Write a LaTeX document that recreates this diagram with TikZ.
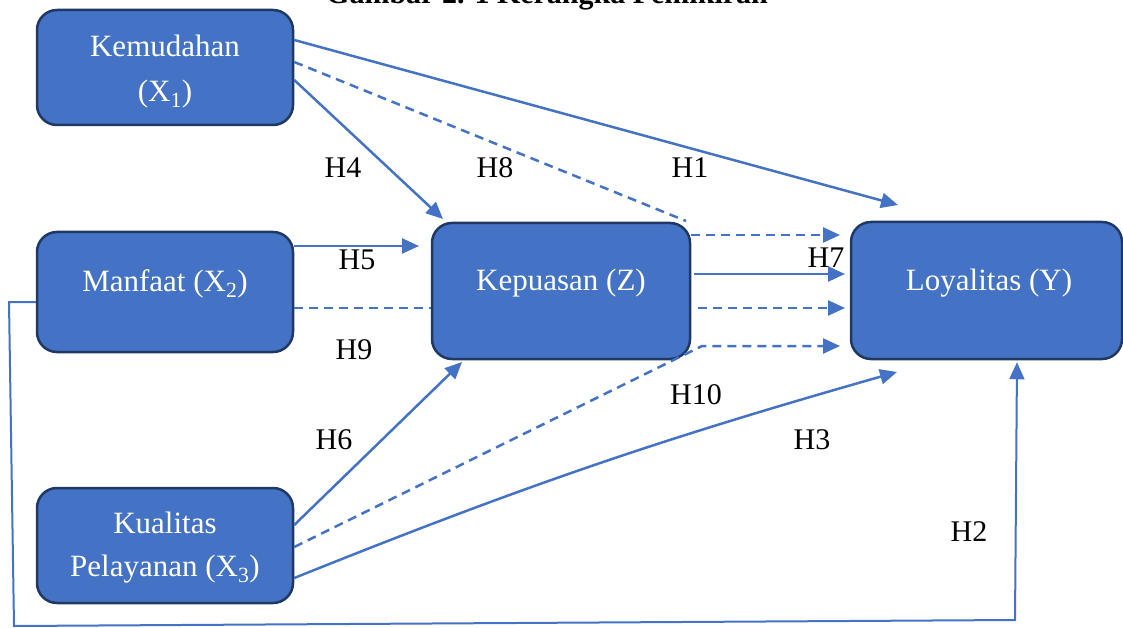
\documentclass[tikz,border=0pt]{standalone}
\usepackage{fontspec}
\setmainfont{Liberation Serif}
\usetikzlibrary{arrows.meta,calc}
\definecolor{boxfill}{HTML}{4472C4}
\definecolor{boxline}{HTML}{203864}
\definecolor{arr}{HTML}{4472C4}
\begin{document}
\begin{tikzpicture}[x=1pt,y=-1pt,
  box/.style={draw=boxline, fill=boxfill, line width=2.5pt, rounded corners=20pt,
    text=white, align=center, inner sep=0pt, font=\fontsize{31}{44}\selectfont},
  conn/.style={draw=arr, line width=2.5pt},
  tip/.style={-{Triangle[length=17pt,width=15pt]}},
  dsh/.style={dash pattern=on 9pt off 6pt},
  lab/.style={font=\fontsize{30}{36}\selectfont, inner sep=0pt}]
\useasboundingbox (0,0) rectangle (1123,628);
\node[font=\bfseries\fontsize{30}{36}\selectfont, anchor=base, inner sep=0pt] (title) at (547,4) {Gambar 2. 1 Kerangka Pemikiran};

\node[box, minimum width=256pt, minimum height=115pt] (k) at (165,67.5) {};
\node[font=\fontsize{31}{45}\selectfont, text=white, align=center, inner sep=0pt] (kt) at (165,72) {Kemudahan\\(X\textsubscript{1})};
\node[box, minimum width=256pt, minimum height=120pt] (m) at (165,292) {};
\node[font=\fontsize{31}{44}\selectfont, text=white, inner sep=0pt] (mt) at (165,284) {Manfaat (X\textsubscript{2})};
\node[box, minimum width=256pt, minimum height=115pt] (q) at (165,545.5) {};
\node[font=\fontsize{31}{43}\selectfont, text=white, align=center, inner sep=0pt] (qt) at (165,548) {Kualitas\\Pelayanan (X\textsubscript{3})};
\node[box, minimum width=258pt, minimum height=136pt] (z) at (561,291) {};
\node[font=\fontsize{31}{44}\selectfont, text=white, inner sep=0pt] (zt) at (561,283) {Kepuasan (Z)};
\node[box, minimum width=271pt, minimum height=137pt] (y) at (986.5,290.5) {};
\node[font=\fontsize{31}{44}\selectfont, text=white, inner sep=0pt] (yt) at (989,283) {Loyalitas (Y)};

\coordinate (e1) at (898,205);
\coordinate (e4) at (443,219);
\coordinate (e5) at (419,246);
\coordinate (e8a) at (686,221);
\coordinate (e8) at (840,235);
\coordinate (e7) at (845,274);
\coordinate (e9) at (845,308);
\coordinate (e10a) at (702,346);
\coordinate (e10) at (840,346);
\coordinate (e6) at (462,362);
\coordinate (e3) at (897,372);
\coordinate (c1) at (9,302);
\coordinate (c2) at (14,626);
\coordinate (c3) at (1015,620);

% H1
\draw[conn, tip] ($(k.east)+(0,-27.5)$) -- (e1);
% H8
\draw[conn, dsh] ($(k.east)+(0,-5.5)$) -- (e8a);
\draw[conn, dsh, tip] ($(z.east)+(0,-56)$) -- (e8);
% H4
\draw[conn, tip] ($(k.east)+(0,12.5)$) -- (e4);
% H5
\draw[conn, tip] ($(m.east)+(0,-46)$) -- (e5);
% H9
\draw[conn, dsh] ($(m.east)+(0,16)$) -- ($(z.west)+(0,17)$);
\draw[conn, dsh, tip] ($(z.east)+(7,17)$) -- (e9);
% H7
\draw[conn, tip] ($(z.east)+(3,-17)$) -- (e7);
% H10
\draw[conn, dsh, tip] ($(q.east)+(0,1.5)$) -- (e10a) -- (e10);
% H6
\draw[conn, tip] ($(q.east)+(0,-20.5)$) -- (e6);
% H3
\draw[conn, tip] ($(q.east)+(0,32.5)$) to[bend left=3] (e3);
% H2
\draw[conn, line width=2pt, tip] ($(m.west)+(0,10)$) -- (c1) -- (c2) -- (c3) -- ($(y.south)+(30.5,2)$);

\node[lab] (h4) at (343,168) {H4};
\node[lab] (h8) at (495,168) {H8};
\node[lab] (h1) at (690,168) {H1};
\node[lab] (h5) at (357,260) {H5};
\node[lab] (h7) at (826,258) {H7};
\node[lab] (h9) at (354,350) {H9};
\node[lab] (h10) at (696,395) {H10};
\node[lab] (h6) at (334,440) {H6};
\node[lab] (h3) at (812,440) {H3};
\node[lab] (h2) at (969,532) {H2};
\end{tikzpicture}
\end{document}
